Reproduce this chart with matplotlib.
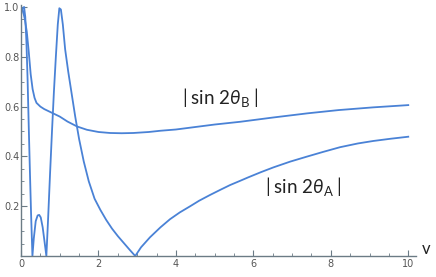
import matplotlib
matplotlib.use("Agg")
import matplotlib.pyplot as plt
from matplotlib.ticker import MultipleLocator

# |sin 2theta_A| (oscillating curve)
v_a = [0, 0.04, 0.08, 0.11, 0.14, 0.17, 0.2, 0.23, 0.26, 0.295,
       0.33, 0.38, 0.43, 0.47, 0.51, 0.56, 0.61, 0.655,
       0.70, 0.75, 0.80, 0.85, 0.90, 0.95, 0.99, 1.03, 1.08, 1.14,
       1.22, 1.30, 1.40, 1.50, 1.62, 1.75, 1.90, 2.05, 2.2, 2.35,
       2.5, 2.65, 2.8, 2.95, 3.1, 3.33, 3.6, 3.85, 4.1, 4.37, 4.6,
       4.88, 5.15, 5.4, 5.66, 5.87, 6.2, 6.52, 6.95, 7.38, 7.8, 8.24,
       8.7, 9.1, 9.55, 10.0]
sin_a = [0.97, 0.995, 1.0, 0.96, 0.86, 0.71, 0.52, 0.34, 0.17, 0.0,
         0.07, 0.14, 0.163, 0.165, 0.155, 0.115, 0.055, 0.0,
         0.15, 0.33, 0.5, 0.66, 0.8, 0.93, 0.995, 0.99, 0.93, 0.83,
         0.74, 0.66, 0.56, 0.47, 0.38, 0.30, 0.23, 0.185, 0.145, 0.11,
         0.08, 0.053, 0.026, 0.0, 0.035, 0.075, 0.115, 0.148, 0.175, 0.2, 0.222,
         0.245, 0.266, 0.285, 0.302, 0.316, 0.337, 0.356, 0.379, 0.399, 0.418, 0.437,
         0.452, 0.462, 0.471, 0.479]

# |sin 2theta_B|
v_b = [0, 0.05, 0.1, 0.15, 0.2, 0.25, 0.3, 0.35, 0.4, 0.5, 0.6, 0.8,
       1.0, 1.2, 1.45, 1.7, 2.0, 2.3, 2.6, 2.9, 3.3, 3.6, 4.0, 4.5,
       5.0, 5.66, 6.5, 7.4, 8.2, 9.1, 10.0]
sin_b = [1.0, 0.985, 0.95, 0.9, 0.82, 0.73, 0.67, 0.635, 0.615, 0.60, 0.59, 0.575,
         0.56, 0.54, 0.52, 0.507, 0.498, 0.494, 0.493, 0.494, 0.498, 0.503, 0.508, 0.518,
         0.528, 0.539, 0.556, 0.573, 0.586, 0.597, 0.606]

x_ticks = [0, 2, 4, 6, 8, 10]
y_ticks = [0.2, 0.4, 0.6, 0.8, 1.0]

line_col = "#4a82d6"
axis_col = "#6b7b85"

plt.rcParams['mathtext.fontset'] = 'custom'
plt.rcParams['mathtext.rm'] = 'Lato'
plt.rcParams['mathtext.it'] = 'Lato:italic'

fig = plt.figure(figsize=(4.36, 2.77), dpi=100, facecolor='w')
ax = fig.add_axes([21 / 436, 21 / 277, 395 / 436, 251 / 277])

ax.plot(v_a, sin_a, color=line_col, lw=1.3)
ax.plot(v_b, sin_b, color=line_col, lw=1.3)

ax.set_xlim(0, 10.2)
ax.set_ylim(0, 1.008)
ax.set_xticks(x_ticks)
ax.set_xticklabels([str(t) for t in x_ticks])
ax.set_yticks(y_ticks)
ax.set_yticklabels(["%.1f" % t for t in y_ticks])
ax.xaxis.set_minor_locator(MultipleLocator(0.5))
ax.yaxis.set_minor_locator(MultipleLocator(0.05))

for s in ['top', 'right']:
    ax.spines[s].set_visible(False)
for s in ['left', 'bottom']:
    ax.spines[s].set_color(axis_col)
    ax.spines[s].set_linewidth(1.0)

ax.tick_params(which='major', direction='in', length=4, width=0.8,
               color=axis_col, labelsize=7, labelcolor='#555555', pad=2)
ax.tick_params(which='minor', direction='in', length=2.5, width=0.6,
               color=axis_col)
ax.tick_params(axis='y', pad=1)

ax.text(10.35, 0.03, "v", fontsize=12, family='Lato', color='#222222',
        ha='left', va='center', clip_on=False)

ax.text(5.15, 0.635, r"$|\;\mathrm{sin}\ 2\mathit{\theta}_{\mathrm{B}}\;|$", fontsize=13.5,
        ha='center', va='center', color='#222222')
ax.text(7.3, 0.28, r"$|\;\mathrm{sin}\ 2\mathit{\theta}_{\mathrm{A}}\;|$", fontsize=13.5,
        ha='center', va='center', color='#222222')

fig.savefig("out.png", dpi=100, facecolor='w')
